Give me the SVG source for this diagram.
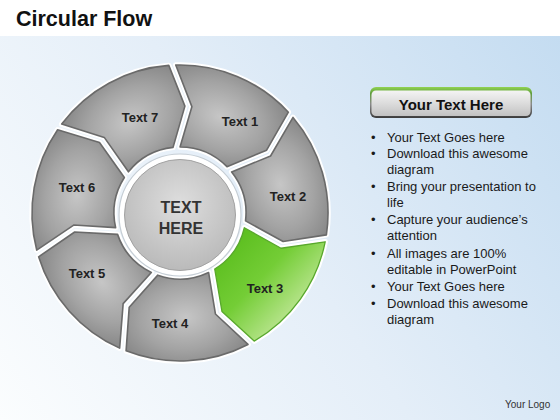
<svg xmlns="http://www.w3.org/2000/svg" xmlns:xlink="http://www.w3.org/1999/xlink" width="560" height="420" viewBox="0 0 560 420">
  <defs>
    <linearGradient id="bg" x1="560" y1="36" x2="0" y2="420" gradientUnits="userSpaceOnUse">
      <stop offset="0" stop-color="#c4dcf1"/>
      <stop offset="0.5" stop-color="#e4eef8"/>
      <stop offset="1" stop-color="#fbfdfe"/>
    </linearGradient>
    <radialGradient id="grayFill" cx="0.5" cy="0.5" r="0.62">
      <stop offset="0" stop-color="#c6c6c6"/>
      <stop offset="0.6" stop-color="#a3a3a3"/>
      <stop offset="1" stop-color="#868686"/>
    </radialGradient>
    <linearGradient id="greenFill" x1="0.4" y1="1" x2="0.6" y2="0">
      <stop offset="0" stop-color="#5dbf20"/>
      <stop offset="0.5" stop-color="#74cd36"/>
      <stop offset="1" stop-color="#b4e388"/>
    </linearGradient>
    <radialGradient id="centerFill" cx="0.5" cy="0.4" r="0.6">
      <stop offset="0" stop-color="#dedede"/>
      <stop offset="1" stop-color="#bababa"/>
    </radialGradient>
    <linearGradient id="btnEdge" x1="0" y1="0" x2="0" y2="1">
      <stop offset="0" stop-color="#92d352"/>
      <stop offset="0.2" stop-color="#5f9e3a"/>
      <stop offset="0.55" stop-color="#8a8a8a"/>
      <stop offset="1" stop-color="#3c3c3c"/>
    </linearGradient>
    <linearGradient id="btnFill" x1="0" y1="0" x2="0" y2="1">
      <stop offset="0" stop-color="#f4f4f4"/>
      <stop offset="0.5" stop-color="#dcdcdc"/>
      <stop offset="1" stop-color="#c2c2c2"/>
    </linearGradient>
    <path id="seg" d="M118.95,78.17 A148,148 0 0 1 241.05,78.17 L235.65,121.61 L205.44,152.10 A66,66 0 0 0 154.56,152.10 L149.90,110.32 Z"/>
    <style>
      .halo { fill: none; stroke: #ffffff; stroke-width: 5.5; stroke-linejoin: round; }
      .gray { fill: url(#grayFill); stroke: #6a6a6a; stroke-width: 1.6; stroke-linejoin: round; }
      .green { fill: url(#greenFill); stroke: #58a82c; stroke-width: 1.3; stroke-linejoin: round; }
      .lbl { font-family: "Liberation Sans", Arial, sans-serif; font-weight: bold; font-size: 13px; fill: #222222; text-anchor: middle; }
      .ctr { font-family: "Liberation Sans", Arial, sans-serif; font-weight: bold; font-size: 16px; fill: #333333; text-anchor: middle; }
      .bul { font-family: "Liberation Sans", Arial, sans-serif; font-size: 13px; fill: #1a1a1a; }
    </style>
  </defs>

  <rect x="0" y="0" width="560" height="420" fill="#ffffff"/>
  <rect x="0" y="36" width="560" height="384" fill="url(#bg)"/>

  <text x="16" y="26" font-family="'Liberation Sans', Arial, sans-serif" font-weight="bold" font-size="21.5" fill="#111111">Circular Flow</text>

  <g id="seg1">
    <use xlink:href="#seg" class="halo" transform="rotate(22.71 180 213)"/>
    <use xlink:href="#seg" class="gray" transform="rotate(22.71 180 213)"/>
    <text class="lbl" x="240" y="126">Text 1</text>
  </g>
  <g id="seg2">
    <use xlink:href="#seg" class="halo" transform="rotate(74.14 180 213)"/>
    <use xlink:href="#seg" class="gray" transform="rotate(74.14 180 213)"/>
    <text class="lbl" x="288" y="201">Text 2</text>
  </g>
  <g id="seg3">
    <use xlink:href="#seg" class="halo" transform="rotate(125.57 180 213)"/>
    <use xlink:href="#seg" class="green" transform="rotate(125.57 180 213)"/>
    <text class="lbl" x="265" y="293">Text 3</text>
  </g>
  <g id="seg4">
    <use xlink:href="#seg" class="halo" transform="rotate(177 180 213)"/>
    <use xlink:href="#seg" class="gray" transform="rotate(177 180 213)"/>
    <text class="lbl" x="170" y="328">Text 4</text>
  </g>
  <g id="seg5">
    <use xlink:href="#seg" class="halo" transform="rotate(228.43 180 213)"/>
    <use xlink:href="#seg" class="gray" transform="rotate(228.43 180 213)"/>
    <text class="lbl" x="87" y="278">Text 5</text>
  </g>
  <g id="seg6">
    <use xlink:href="#seg" class="halo" transform="rotate(279.86 180 213)"/>
    <use xlink:href="#seg" class="gray" transform="rotate(279.86 180 213)"/>
    <text class="lbl" x="77" y="192">Text 6</text>
  </g>
  <g id="seg7">
    <use xlink:href="#seg" class="halo" transform="rotate(331.29 180 213)"/>
    <use xlink:href="#seg" class="gray" transform="rotate(331.29 180 213)"/>
    <text class="lbl" x="140" y="122">Text 7</text>
  </g>

  <g id="center">
    <circle cx="180" cy="215" r="61" fill="#ffffff" stroke="#c6ced5" stroke-width="1.2"/>
    <circle cx="180" cy="215" r="55.5" fill="url(#centerFill)" stroke="#a2a2a2" stroke-width="1"/>
    <text class="ctr" x="181" y="213">TEXT</text>
    <text class="ctr" x="181" y="234">HERE</text>
  </g>

  <g id="header">
    <rect x="370" y="87" width="162" height="31" rx="6" fill="url(#btnEdge)"/>
    <rect x="371.5" y="90.5" width="159" height="25.5" rx="4.5" fill="url(#btnFill)"/>
    <text x="451" y="110" font-family="'Liberation Sans', Arial, sans-serif" font-weight="bold" font-size="15" fill="#111111" text-anchor="middle">Your Text Here</text>
  </g>

  <g id="bullets" class="bul">
    <text x="371" y="142">•</text><text x="387" y="142">Your Text Goes here</text>
    <text x="371" y="158">•</text><text x="387" y="158">Download this awesome</text>
    <text x="387" y="174">diagram</text>
    <text x="371" y="191">•</text><text x="387" y="191">Bring your presentation to</text>
    <text x="387" y="207">life</text>
    <text x="371" y="224">•</text><text x="387" y="224">Capture your audience’s</text>
    <text x="387" y="240">attention</text>
    <text x="371" y="258">•</text><text x="387" y="258">All images are 100%</text>
    <text x="387" y="274">editable in PowerPoint</text>
    <text x="371" y="291">•</text><text x="387" y="291">Your Text Goes here</text>
    <text x="371" y="308">•</text><text x="387" y="308">Download this awesome</text>
    <text x="387" y="324">diagram</text>
  </g>

  <text x="505" y="408" font-family="'Liberation Sans', Arial, sans-serif" font-size="10" fill="#333333">Your Logo</text>
</svg>
